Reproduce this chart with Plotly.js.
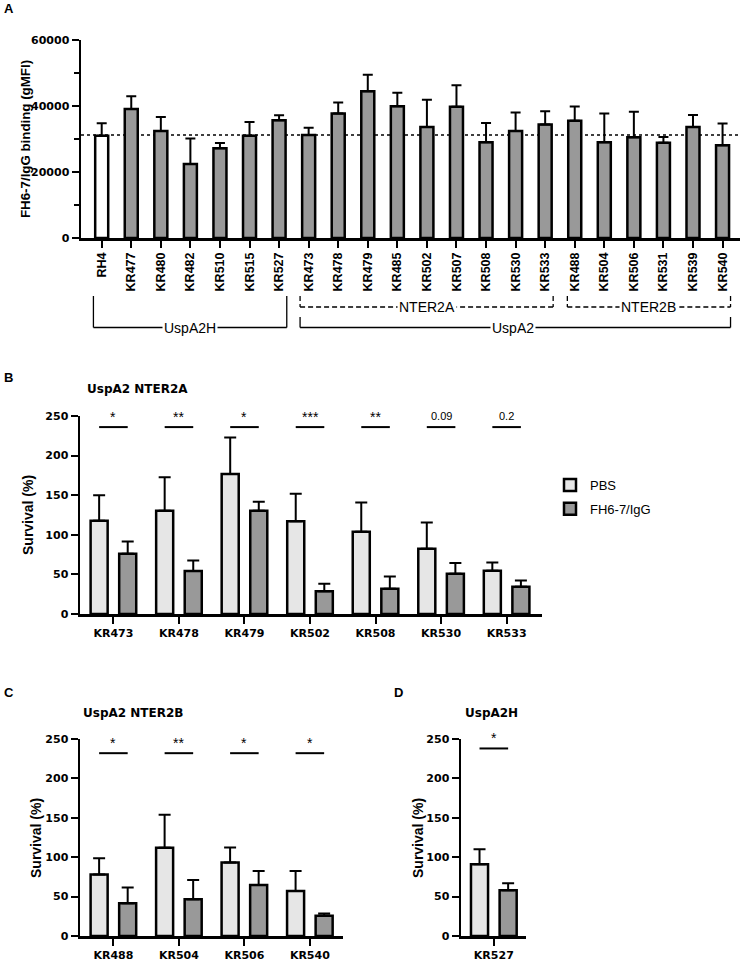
<!DOCTYPE html>
<html><head><meta charset="utf-8">
<script src="https://cdn.plot.ly/plotly-3.0.1.min.js"></script>
<style>html,body{margin:0;padding:0;background:#fff}</style>
</head><body><div id="chart" style="width:742px;height:962px"></div>
<script>
// ---------- Panel A data ----------
const strainsA = ['RH4','KR477','KR480','KR482','KR510','KR515','KR527','KR473','KR478','KR479','KR485','KR502','KR507','KR508','KR530','KR533','KR488','KR504','KR506','KR531','KR539','KR540'];
const bindingMean = [31000,39100,32400,22400,27200,31000,35700,31200,37700,44500,39900,33600,39800,29000,32400,34400,35500,29000,30500,28900,33600,28100];
const bindingErr  = [3740,3840,4240,7780,1620,4140,1520,2220,3330,4950,4140,8280,6460,5860,5660,4040,4340,8690,7780,1720,3640,6570];
const referenceLevel = 31200;
const referenceStrain = 'RH4';
const groupLabels = ['UspA2H','UspA2','NTER2A','NTER2B'];

// ---------- Panel B data (UspA2 NTER2A) ----------
const strainsB = ['KR473','KR478','KR479','KR502','KR508','KR530','KR533'];
const pbsB    = [117.6,130.3,176.9,117.2,103.8,82.4,54.6];
const pbsBErr = [32.4,42.4,45.8,34.5,37.0,33.1,10.5];
const fhB     = [76.1,54.2,130.3,28.6,31.9,50.8,34.5];
const fhBErr  = [15.5,13.4,11.3,9.6,15.6,13.5,7.9];
const sigB    = ['*','**','*','***','**','0.09','0.2'];

// ---------- Panel C data (UspA2 NTER2B) ----------
const strainsC = ['KR488','KR504','KR506','KR540'];
const pbsC    = [78.0,111.9,93.2,57.2];
const pbsCErr = [20.7,41.9,19.1,25.4];
const fhC     = [41.5,46.6,64.8,25.8];
const fhCErr  = [19.9,24.6,17.8,2.6];
const sigC    = ['*','**','*','*'];

// ---------- Panel D data (UspA2H) ----------
const strainsD = ['KR527'];
const pbsD    = [91.1];
const pbsDErr = [19.1];
const fhD     = [58.1];
const fhDErr  = [8.9];
const sigD    = ['*'];

const seriesNames = ['PBS','FH6-7/IgG'];

// ---------- helpers ----------
const W = 742, H = 962;
const px = x => x / W;
const py = y => 1 - y / H;
const BLACK = '#000';
const GREY = '#999999';
const LIGHT = '#e6e6e6';
const ARIAL = 'Liberation Sans, Arial, sans-serif';
const WIDE = 'DejaVu Sans, sans-serif';
const zeros = a => a.map(() => 0);

function errBar(arr, w) {
  return {type:'data', symmetric:false, array:arr, arrayminus:zeros(arr), color:BLACK, thickness:2, width:w, visible:true};
}

const traces = [];
// Panel A
traces.push({
  type:'bar', x:strainsA, y:bindingMean, xaxis:'x', yaxis:'y',
  width:0.44,
  marker:{color:strainsA.map(s => s === referenceStrain ? '#ffffff' : GREY), line:{color:BLACK, width:2.5}},
  error_y:errBar(bindingErr, 5), showlegend:false, hoverinfo:'x+y'
});

function pairTraces(cats, pbs, pbsErr, fh, fhErr, xa, ya, legend) {
  traces.push({
    type:'bar', name:seriesNames[0], x:cats, y:pbs, xaxis:xa, yaxis:ya,
    offset:-0.348, width:0.26,
    marker:{color:LIGHT, line:{color:BLACK, width:2.5}},
    error_y:errBar(pbsErr, 6), showlegend:legend, legendgroup:'pbs'
  });
  traces.push({
    type:'bar', name:seriesNames[1], x:cats, y:fh, xaxis:xa, yaxis:ya,
    offset:0.088, width:0.26,
    marker:{color:GREY, line:{color:BLACK, width:2.5}},
    error_y:errBar(fhErr, 6), showlegend:legend, legendgroup:'fh'
  });
}
pairTraces(strainsB, pbsB, pbsBErr, fhB, fhBErr, 'x2', 'y2', true);
pairTraces(strainsC, pbsC, pbsCErr, fhC, fhCErr, 'x3', 'y3', false);
pairTraces(strainsD, pbsD, pbsDErr, fhD, fhDErr, 'x4', 'y4', false);

const shapes = [];
const annotations = [];

// reference dotted line in A
shapes.push({type:'line', xref:'x', yref:'y', x0:-0.70, x1:21.59, y0:referenceLevel, y1:referenceLevel,
  line:{color:BLACK, width:1.5, dash:'dot'}, layer:'below'});

// group brackets in A
function bracket(x0, x1, yTop, yBot, dash, label, labelX) {
  const ln = {color:BLACK, width:1.3, dash:dash};
  shapes.push({type:'line', xref:'x', yref:'paper', x0:x0, x1:x0, y0:py(yTop), y1:py(yBot), line:ln});
  shapes.push({type:'line', xref:'x', yref:'paper', x0:x1, x1:x1, y0:py(yTop), y1:py(yBot), line:ln});
  shapes.push({type:'line', xref:'x', yref:'paper', x0:x0, x1:x1, y0:py(yBot), y1:py(yBot), line:ln});
  annotations.push({xref:'x', yref:'paper', x:labelX, y:py(yBot), text:label, showarrow:false,
    font:{family:ARIAL, size:14, color:BLACK}, bgcolor:'#ffffff', borderpad:1, xanchor:'center', yanchor:'middle'});
}
bracket(-0.28, 6.26, 296, 327.5, 'solid', groupLabels[0], 3.0);
bracket(6.71, 21.27, 317, 327.5, 'solid', groupLabels[1], 13.9);
bracket(6.71, 15.27, 296, 307, '5px,3px', groupLabels[2], 11.0);
bracket(15.75, 21.27, 296, 307, '5px,3px', groupLabels[3], 18.5);

// significance lines
function sigMarks(cats, sig, xa, ya, yLine) {
  cats.forEach((c, i) => {
    shapes.push({type:'line', xref:xa, yref:ya, x0:i-0.218, x1:i+0.218, y0:yLine, y1:yLine, line:{color:BLACK, width:2}});
    const isNum = /[0-9]/.test(sig[i]);
    annotations.push({xref:xa, yref:ya, x:i, y:yLine, text:sig[i], showarrow:false, yanchor:'bottom', yshift: isNum ? 3 : 0,
      font:{family:ARIAL, size: isNum ? 11 : 14, color:BLACK}});
  });
}
sigMarks(strainsB, sigB, 'x2', 'y2', 236);
sigMarks(strainsC, sigC, 'x3', 'y3', 232);
sigMarks(strainsD, sigD, 'x4', 'y4', 238);

// text labels
function txt(x, y, text, size, opts) {
  annotations.push(Object.assign({xref:'paper', yref:'paper', x:px(x), y:py(y), text:text, showarrow:false,
    font:{family:ARIAL, size:size, color:BLACK, weight:'bold'}, xanchor:'left', yanchor:'middle'}, opts || {}));
}
const titleFont = {family:WIDE, size:12, color:BLACK, weight:'bold'};
txt(2, 8, 'A', 13);
txt(2, 377, 'B', 13);
txt(2, 692, 'C', 13);
txt(392, 692, 'D', 13);
txt(85, 389, 'UspA2 NTER2A', 12, {font:titleFont});
txt(81, 713, 'UspA2 NTER2B', 12, {font:titleFont});
txt(491, 713, 'UspA2H', 12, {xanchor:'center', font:titleFont});
txt(25, 139, 'FH6-7/IgG binding (gMFI)', 13.3, {xanchor:'center', textangle:-90});
txt(28, 515, 'Survival (%)', 14, {xanchor:'center', textangle:-90});
txt(36, 838, 'Survival (%)', 14, {xanchor:'center', textangle:-90});
txt(418, 838, 'Survival (%)', 14, {xanchor:'center', textangle:-90});

const tickFontH = {family:WIDE, size:11, color:BLACK, weight:'bold'};
function xAxis(domain, range, anchor, rotated) {
  return {domain:domain, range:range, anchor:anchor, type:'category', showline:true, linecolor:BLACK, linewidth:2.5,
    ticks:'outside', ticklen:7, tickwidth:2, tickcolor:BLACK, showgrid:false, zeroline:false,
    tickangle: rotated ? -90 : 0,
    tickfont: rotated ? {family:ARIAL, size:12.5, color:BLACK, weight:'bold'} : tickFontH, fixedrange:true};
}
function yAxis(domain, range, dtick, anchor, minor) {
  const a = {domain:domain, range:range, anchor:anchor, dtick:dtick, tick0:0, showline:true, linecolor:BLACK, linewidth:2.5,
    ticks:'outside', ticklen:7, tickwidth:2, tickcolor:BLACK, showgrid:false, zeroline:false,
    tickformat:'d', separatethousands:false, exponentformat:'none',
    tickfont:tickFontH, fixedrange:true};
  if (minor) a.minor = {dtick:minor, ticks:'outside', ticklen:5, tickwidth:2, tickcolor:BLACK, showgrid:false};
  return a;
}

const layout = {
  width:W, height:H, margin:{l:0, r:0, t:0, b:0}, paper_bgcolor:'#fff', plot_bgcolor:'#fff',
  barmode:'overlay', font:{family:ARIAL, color:BLACK},
  xaxis:  xAxis([px(81), px(740)], [-0.70, 21.59], 'y', true),
  yaxis:  yAxis([py(238), py(40)], [0, 60000], 20000, 'x', 10000),
  xaxis2: xAxis([px(80), px(542)], [-0.51, 6.54], 'y2', false),
  yaxis2: yAxis([py(614), py(416)], [0, 250], 50, 'x2'),
  xaxis3: xAxis([px(80), px(343)], [-0.51, 3.506], 'y3', false),
  yaxis3: yAxis([py(936), py(739)], [0, 250], 50, 'x3'),
  xaxis4: xAxis([px(461), px(526)], [-0.50, 0.49], 'y4', false),
  yaxis4: yAxis([py(936), py(739)], [0, 250], 50, 'x4'),
  legend:{x:px(550), y:py(470), xanchor:'left', yanchor:'top', font:{family:ARIAL, size:13, color:BLACK}, bgcolor:'rgba(0,0,0,0)', tracegroupgap:4},
  shapes:shapes, annotations:annotations, showlegend:true
};

Plotly.newPlot('chart', traces, layout, {displayModeBar:false, staticPlot:true});
</script>
</body></html>
